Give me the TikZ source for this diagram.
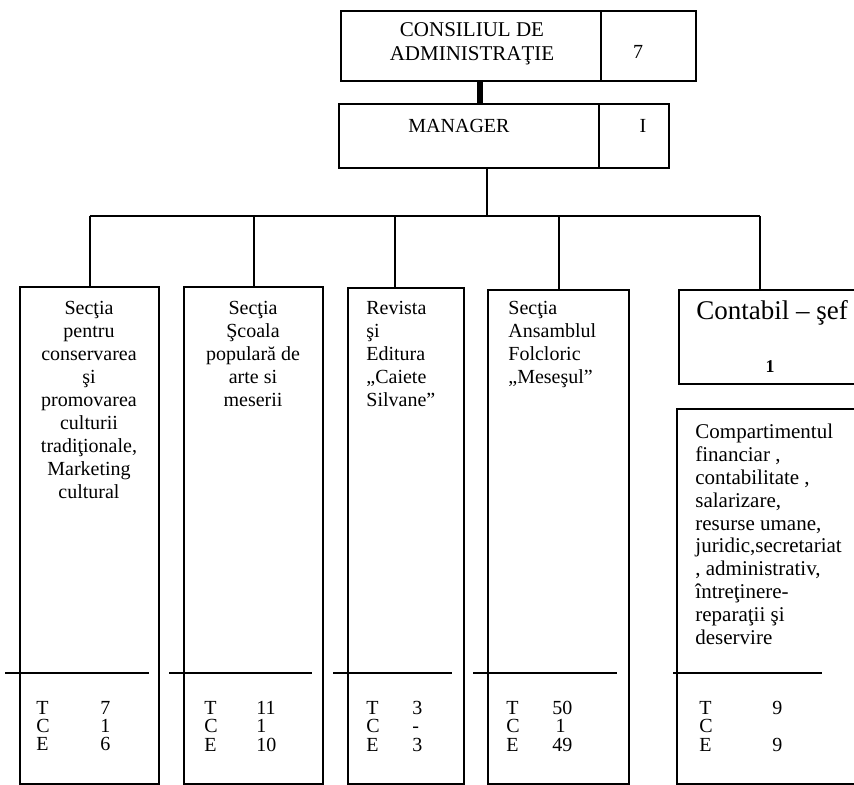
\documentclass[tikz,border=0pt]{standalone}
\usepackage{fontspec}
\setmainfont{Liberation Serif}
\usetikzlibrary{positioning}

\newcommand{\tcetable}[4]{\begin{tabular}{@{}p{#1}@{}l@{}}T & #2\\ C & #3\\ E & #4\end{tabular}}

\begin{document}
\begin{tikzpicture}[x=0.5pt,y=-0.5pt,
        box/.style={rectangle, draw=black, line width=1pt, anchor=north west, inner sep=0pt},
        label/.style={inner sep=0pt, align=center, font=\fontsize{10}{11.5}\selectfont},
        leftlabel/.style={inner sep=0pt, anchor=north west, align=left, font=\fontsize{10}{11.5}\selectfont},
        tce/.style={inner sep=0pt, anchor=north west, font=\fontsize{10}{8.3}\selectfont},
        link/.style={line width=1pt},
        heavylink/.style={line width=2.6pt},
        divider/.style={line width=1.3pt}
    ]
        \useasboundingbox (0,0) rectangle (854,784);
        \clip (0,0) rectangle (854,784);

        % Top boxes
        \node[box, minimum width=130pt, minimum height=35pt] (council) at (340,10) {};
        \node[box, minimum width=47.5pt, minimum height=35pt] (councilnr) at (600,10) {};
        \node[label, font=\fontsize{10.5}{12}\selectfont] (counciltxt) at (472,44) {CONSILIUL DE\\ADMINISTRAŢIE};
        \node[label] (councilval) at (638,52) {7};

        \node[box, minimum width=130pt, minimum height=32pt] (mgr) at (338,103) {};
        \node[box, minimum width=35pt, minimum height=32pt] (mgrnr) at (598,103) {};
        \node[label] (mgrtxt) at (459,126) {MANAGER};
        \node[label] (mgrval) at (643,126) {I};

        % Department boxes
        \node[box, minimum width=69.5pt, minimum height=248.5pt] (b1) at (19,286) {};
        \node[box, minimum width=69.5pt, minimum height=248.5pt] (b2) at (183,286) {};
        \node[box, minimum width=58pt, minimum height=248pt] (b3) at (347,287) {};
        \node[box, minimum width=70.5pt, minimum height=247pt] (b4) at (487,289) {};
        \node[box, minimum width=96pt, minimum height=47pt] (b5) at (678,289) {};
        \node[box, minimum width=97pt, minimum height=187.5pt] (b6) at (676,408) {};

        % Texts
        \node[label, anchor=north] (b1txt) at (89,301) {Secţia\\pentru\\conservarea\\şi\\promovarea\\culturii\\tradiţionale,\\Marketing\\cultural};
        \node[label, anchor=north] (b2txt) at (253,301) {Secţia\\Şcoala\\populară de\\arte si\\meserii};
        \node[leftlabel] (b3txt) at (366,301) {Revista\\şi\\Editura\\„Caiete\\Silvane”};
        \node[leftlabel] (b4txt) at (508,301) {Secţia\\Ansamblul\\Folcloric\\„Meseşul”};
        \node[label, font=\fontsize{13.5}{15}\selectfont] (b5txt) at (772,313) {Contabil – şef};
        \node[label, font=\fontsize{9}{10}\selectfont\bfseries] (b5val) at (770,367) {1};
        \node[leftlabel, font=\fontsize{10.5}{11.4}\selectfont] (b6txt) at (695,424) {Compartimentul\\financiar ,\\contabilitate ,\\salarizare,\\resurse umane,\\juridic,secretariat\\, administrativ,\\întreţinere-\\reparaţii şi\\deservire};

        % Staff tables
        \node[tce] (t1) at (36,701) {\tcetable{32pt}{7}{1}{6}};
        \node[tce] (t2) at (204,701) {\tcetable{26pt}{11}{1}{10}};
        \node[tce] (t3) at (366,701) {\tcetable{23pt}{3}{-}{3}};
        \node[tce] (t4) at (506,701) {\tcetable{23pt}{50}{\,1}{49}};
        \node[tce] (t6) at (699,701) {\tcetable{36.5pt}{9}{}{9}};

        % Dividers
        \draw[divider] ([shift={(-14,-112)}]b1.south west) -- ([shift={(-11,-112)}]b1.south east);
        \draw[divider] ([shift={(-14,-112)}]b2.south west) -- ([shift={(-12,-112)}]b2.south east);
        \draw[divider] ([shift={(-14,-112)}]b3.south west) -- ([shift={(-13,-112)}]b3.south east);
        \draw[divider] ([shift={(-14,-112)}]b4.south west) -- ([shift={(-13,-112)}]b4.south east);
        \draw[divider] ([shift={(-3,-112)}]b6.south west) -- ([shift={(-50,-112)}]b6.south east);

        % Connectors
        \coordinate (joint) at (480,0);
        \coordinate (bus) at (487,216);
        \coordinate (d3) at (395,216);
        \coordinate (d5) at (760,216);
        \draw[heavylink] (joint |- council.south) -- (joint |- mgr.north);
        \draw[link] (bus |- mgr.south) -- (bus);
        \draw[link] (b1.north |- bus) -- (d5);
        \draw[link] (b1.north |- bus) -- (b1.north);
        \draw[link] (b2.north |- bus) -- (b2.north);
        \draw[link] (d3) -- (d3 |- b3.north);
        \draw[link] (b4.north |- bus) -- (b4.north);
        \draw[link] (d5) -- (d5 |- b5.north);
    \end{tikzpicture}
\end{document}
